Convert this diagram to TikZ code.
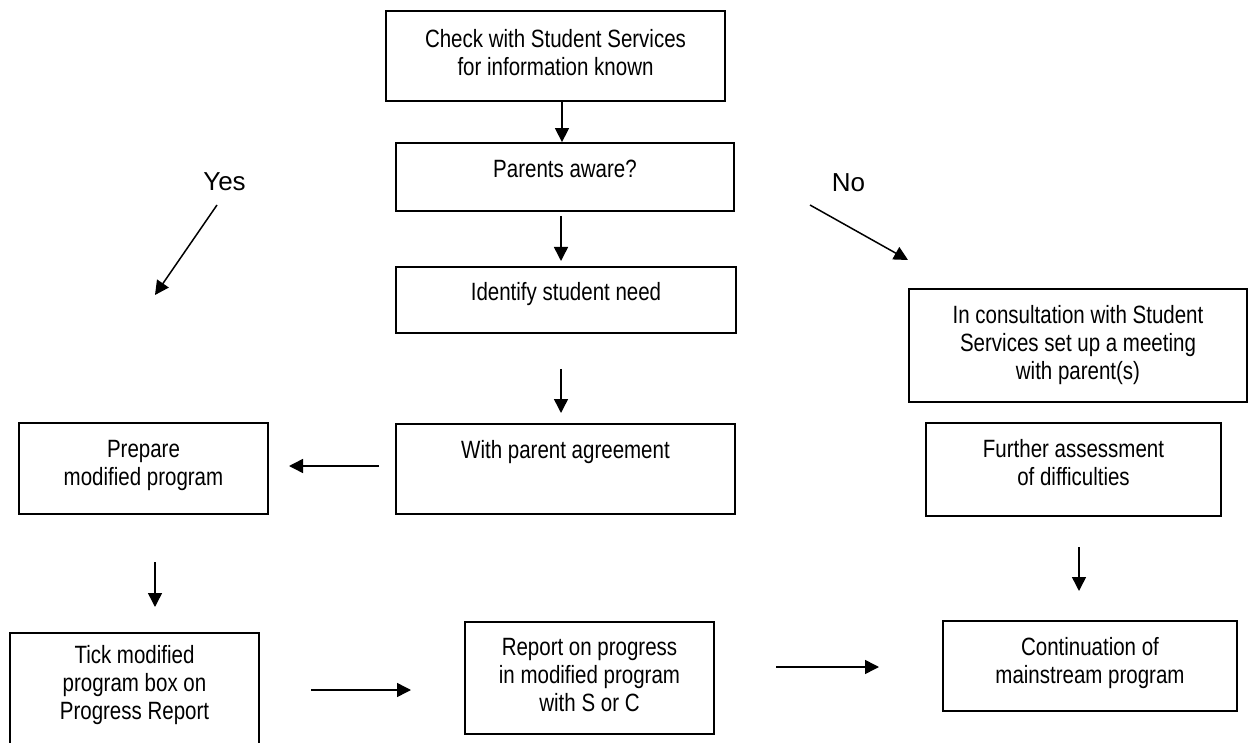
\documentclass[tikz,border=0pt]{standalone}
\usepackage{fontspec}
\setmainfont{Liberation Sans}
\newfontfamily\narrowfont[FakeStretch=0.82]{Liberation Sans}
\usetikzlibrary{arrows.meta}
\newcommand\fstrut{\rule{0pt}{19pt}}
\begin{document}
\begin{tikzpicture}[x=1pt,y=-1pt,
  box/.style={draw, line width=1.8pt, inner sep=0pt},
  txt/.style={font=\narrowfont\fontsize{25}{28}\selectfont, align=center, inner sep=0pt, anchor=north},
  lbl/.style={font=\fontsize{26}{30}\selectfont, inner sep=0pt, anchor=base},
  arr/.style={line width=1.5pt, -{Triangle[length=14pt,width=14pt]}}]
\clip (0,0) rectangle (1248,743);
% boxes
\node[box, minimum width=339pt, minimum height=90pt] (b1) at (555.5,56) {};
\node[box, minimum width=338pt, minimum height=68pt] (b2) at (565,177) {};
\node[box, minimum width=340pt, minimum height=66pt] (b3) at (566,300) {};
\node[box, minimum width=339pt, minimum height=90pt] (b4) at (565.5,469) {};
\node[box, minimum width=249pt, minimum height=91pt] (bp) at (143.5,468.5) {};
\node[box, minimum width=249pt, minimum height=127pt] (bt) at (134.5,696.5) {};
\node[box, minimum width=249pt, minimum height=112pt] (br) at (589.5,678) {};
\node[box, minimum width=338pt, minimum height=113pt] (bc) at (1078,345.5) {};
\node[box, minimum width=295pt, minimum height=93pt] (bf) at (1073.5,469.5) {};
\node[box, minimum width=294pt, minimum height=90pt] (bm) at (1090,666) {};
% texts
\node[txt] (t1) at (555.5,28) {\fstrut Check with Student Services\\for information known};
\node[txt] (t2) at (565,158) {\fstrut Parents aware?};
\node[txt] (t3) at (566,281) {\fstrut Identify student need};
\node[txt] (t4) at (565.5,439) {\fstrut With parent agreement};
\node[txt] (tp) at (143.5,438) {\fstrut Prepare\\modified program};
\node[txt] (tt) at (134.5,644) {\fstrut Tick modified\\program box on\\Progress Report};
\node[txt] (tr) at (589.5,636) {\fstrut Report on progress\\in modified program\\with S or C};
\node[txt] (tc) at (1078,304) {\fstrut In consultation with Student\\Services set up a meeting\\with parent(s)};
\node[txt] (tf) at (1073.5,438) {\fstrut Further assessment\\of difficulties};
\node[txt] (tm) at (1090,636) {\fstrut Continuation of\\mainstream program};
% labels
\node[lbl] (yes) at (224.5,191) {Yes};
\node[lbl] (no) at (848.5,192) {No};
% arrow end points
\coordinate (a2s) at (561,216); \coordinate (a2e) at (561,261);
\coordinate (a3s) at (561,369); \coordinate (a3e) at (561,413);
\coordinate (a4s) at (379,466); \coordinate (a4e) at (289,466);
\coordinate (a5s) at (155,562); \coordinate (a5e) at (155,607);
\coordinate (a6s) at (311,690); \coordinate (a6e) at (411,690);
\coordinate (a7s) at (776,667); \coordinate (a7e) at (879,667);
\coordinate (a8s) at (1079,547); \coordinate (a8e) at (1079,591);
\coordinate (ys) at (217,205); \coordinate (ye) at (155,295);
\coordinate (ns) at (810,205); \coordinate (ne) at (908,260);
% connectors
\draw[arr] ([xshift=6.5pt]b1.south) -- ([xshift=-3pt]b2.north);
\draw[arr] (a2s) -- (a2e);
\draw[arr] (a3s) -- (a3e);
\draw[arr] (a4s) -- (a4e);
\draw[arr] (a5s) -- (a5e);
\draw[arr] (a6s) -- (a6e);
\draw[arr] (a7s) -- (a7e);
\draw[arr] (a8s) -- (a8e);
\draw[arr] (ys) -- (ye);
\draw[arr] (ns) -- (ne);
\end{tikzpicture}
\end{document}
